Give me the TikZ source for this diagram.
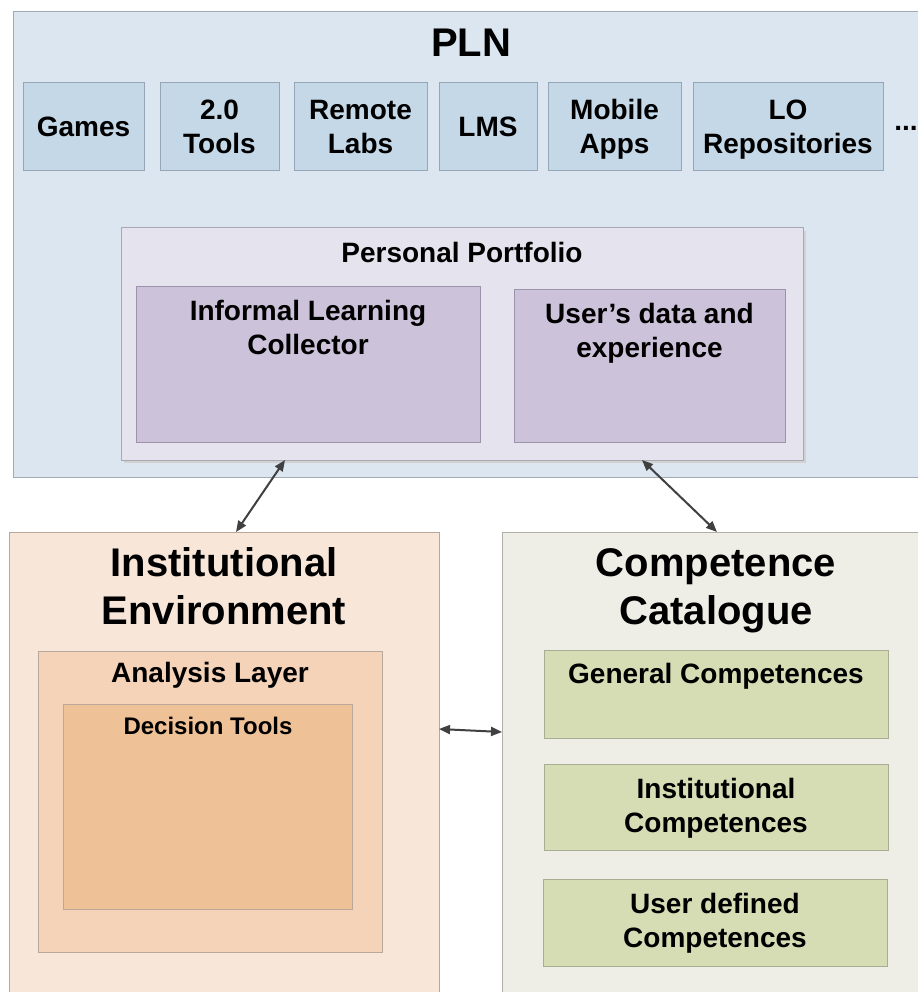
\documentclass[tikz,border=0pt]{standalone}
\usepackage{fontspec}
\setmainfont{Liberation Sans}
\usetikzlibrary{arrows.meta}
\definecolor{plnfill}{HTML}{DCE6F1}
\definecolor{plnline}{HTML}{A3AAB2}
\definecolor{itemfill}{HTML}{C5D8E8}
\definecolor{itemline}{HTML}{96A6B6}
\definecolor{ppfill}{HTML}{E4E3EE}
\definecolor{ppline}{HTML}{A8A8B2}
\definecolor{purfill}{HTML}{CCC3DA}
\definecolor{purline}{HTML}{9C93AA}
\definecolor{instfill}{HTML}{F8E6D9}
\definecolor{anafill}{HTML}{F5D3B9}
\definecolor{decfill}{HTML}{EFC197}
\definecolor{peachline}{HTML}{B8A89C}
\definecolor{compfill}{HTML}{EEEEE7}
\definecolor{compline}{HTML}{B0B0A8}
\definecolor{grnfill}{HTML}{D6DDB4}
\definecolor{grnline}{HTML}{A8AE94}
\definecolor{arrcol}{HTML}{404040}
\tikzset{
  boxrect/.style={draw, line width=1pt, anchor=north west, inner sep=0pt, outer sep=0pt},
  lbl/.style={font=\bfseries\fontsize{28}{34}\selectfont, align=center, inner sep=0pt, text=black},
  biglbl/.style={font=\bfseries\fontsize{40}{48}\selectfont, align=center, inner sep=0pt, text=black},
  smalllbl/.style={font=\bfseries\fontsize{24}{29}\selectfont, align=center, inner sep=0pt, text=black},
  arr/.style={arrcol, line width=2pt, {Triangle[length=11pt,width=9pt]}-{Triangle[length=11pt,width=9pt]}}
}
\begin{document}
\begin{tikzpicture}[x=1pt,y=-1pt]
\useasboundingbox (0,0) rectangle (918,992);
\clip (0,0) rectangle (918,992);
\fill[white] (0,0) rectangle (918,992);
% PLN
\node[boxrect, draw=plnline, fill=plnfill, minimum width=910pt, minimum height=465pt] (pln) at (13,12) {};
\node[lbl, font=\bfseries\fontsize{40}{48}\selectfont] (plnt) at (471,43) {PLN};
% items
\node[boxrect, draw=itemline, fill=itemfill, minimum width=121pt, minimum height=88pt] (games) at (23,83) {};
\node[lbl] at (games.center) {Games};
\node[boxrect, draw=itemline, fill=itemfill, minimum width=119pt, minimum height=88pt] (tools) at (160,83) {};
\node[lbl] at (tools.center) {2.0\\Tools};
\node[boxrect, draw=itemline, fill=itemfill, minimum width=133pt, minimum height=88pt] (labs) at (294,83) {};
\node[lbl] at (labs.center) {Remote\\Labs};
\node[boxrect, draw=itemline, fill=itemfill, minimum width=98pt, minimum height=88pt] (lms) at (439,83) {};
\node[lbl] at (lms.center) {LMS};
\node[boxrect, draw=itemline, fill=itemfill, minimum width=133pt, minimum height=88pt] (apps) at (548,83) {};
\node[lbl] at ([yshift=-2pt]apps.center) {Mobile\\Apps};
\node[boxrect, draw=itemline, fill=itemfill, minimum width=190pt, minimum height=88pt] (repo) at (693,83) {};
\node[lbl] at ([yshift=-2.5pt]repo.center) {LO\\Repositories};
\node[lbl] (dots) at (906,128) {...};
% Personal portfolio
\fill[black!18] (124,231) rectangle (806,463);
\node[boxrect, draw=ppline, fill=ppfill, minimum width=682pt, minimum height=232pt] (pp) at (121,228) {};
\node[lbl] (ppt) at (462,252) {Personal Portfolio};
\node[boxrect, draw=purline, fill=purfill, minimum width=344pt, minimum height=156pt] (ilc) at (136,286) {};
\node[lbl, anchor=north] (ilct) at ([yshift=-14pt]ilc.north) {Informal Learning\\Collector};
\node[boxrect, draw=purline, fill=purfill, minimum width=271pt, minimum height=153pt] (ude) at (514,289) {};
\node[lbl, anchor=north] (udet) at ([yshift=-14pt]ude.north) {User’s data and\\experience};
% Institutional environment
\node[boxrect, draw=peachline, fill=instfill, minimum width=430pt, minimum height=480pt] (inst) at (9,532) {};
\node[biglbl] (instt) at (224,586) {Institutional\\Environment};
\node[boxrect, draw=peachline, fill=anafill, minimum width=344pt, minimum height=301pt] (ana) at (38,651) {};
\node[lbl] (anat) at (210,675) {Analysis Layer};
\node[boxrect, draw=peachline, fill=decfill, minimum width=289pt, minimum height=205pt] (dec) at (63,704) {};
\node[smalllbl] (dect) at (208,726) {Decision Tools};
% Competence catalogue
\node[boxrect, draw=compline, fill=compfill, minimum width=430pt, minimum height=480pt] (comp) at (502,532) {};
\node[biglbl] (compt) at (716,591) {Competence\\Catalogue};
\node[boxrect, draw=grnline, fill=grnfill, minimum width=344pt, minimum height=88pt] (gen) at (544,650) {};
\node[lbl] (gent) at (716,676) {General Competences};
\node[boxrect, draw=grnline, fill=grnfill, minimum width=344pt, minimum height=86pt] (ic) at (544,764) {};
\node[lbl] at ([yshift=-1pt]ic.center) {Institutional\\Competences};
\node[boxrect, draw=grnline, fill=grnfill, minimum width=344pt, minimum height=87pt] (ud) at (543,879) {};
\node[lbl] at ([yshift=-1pt]ud.center) {User defined\\Competences};
% connectors
\draw[arr] ([xshift=164pt]pp.south west) -- ([xshift=227pt]inst.north west);
\draw[arr] ([xshift=521pt]pp.south west) -- ([xshift=215pt]comp.north west);
\draw[arr] ([yshift=-197pt]inst.north east) -- ([yshift=-200pt]comp.north west);
\end{tikzpicture}
\end{document}
